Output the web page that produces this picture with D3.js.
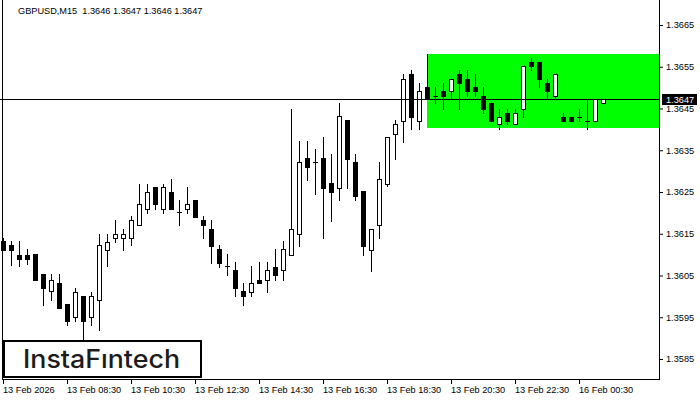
<!DOCTYPE html>
<html><head><meta charset="utf-8">
<script src="https://cdn.jsdelivr.net/npm/d3@7"></script>
<style>
html,body{margin:0;padding:0;background:#fff;}
svg{display:block;}
text{font-family:"Liberation Sans",Arial,sans-serif;}
</style></head><body>
<svg id="c" width="700" height="400"></svg>
<script>
const titleText = "GBPUSD,M15  1.3646 1.3647 1.3646 1.3647";
const opens = [1.36132,1.36122,1.36100,1.36100,1.36101,1.36053,1.36012,1.36031,1.35981,1.35950,
1.36002,1.35950,1.35992,1.36112,1.36141,1.36141,1.36141,1.36172,1.36210,1.36261,
1.36210,1.36251,1.36202,1.36210,1.36232,1.36182,1.36161,1.36113,1.36072,1.36062,
1.36012,1.36011,1.36040,1.36040,1.36071,1.36062,1.36100,1.36150,1.36331,1.36321,
1.36331,1.36271,1.36260,1.36422,1.36321,1.36252,1.36111,1.36171,1.36270,1.36390,
1.36421,1.36532,1.36421,1.36501,1.36481,1.36492,1.36491,1.36532,1.36520,1.36502,
1.36481,1.36462,1.36412,1.36440,1.36412,1.36449,1.36561,1.36561,1.36510,1.36481,
1.36430,1.36430,1.36430,1.36421,1.36421,1.36462];
const highs = [1.36141,1.36132,1.36132,1.36113,1.36101,1.36053,1.36053,1.36053,1.35981,1.36021,
1.36002,1.36011,1.36150,1.36150,1.36182,1.36161,1.36192,1.36270,1.36270,1.36261,
1.36270,1.36280,1.36232,1.36261,1.36232,1.36192,1.36182,1.36122,1.36101,1.36082,
1.36031,1.36072,1.36082,1.36082,1.36113,1.36132,1.36450,1.36372,1.36372,1.36353,
1.36381,1.36341,1.36463,1.36422,1.36341,1.36252,1.36161,1.36321,1.36381,1.36422,
1.36532,1.36542,1.36510,1.36580,1.36501,1.36510,1.36520,1.36542,1.36542,1.36532,
1.36502,1.36462,1.36449,1.36449,1.36449,1.36551,1.36571,1.36561,1.36520,1.36532,
1.36440,1.36430,1.36449,1.36472,1.36472,1.36472];
const lows = [1.36110,1.36074,1.36072,1.36077,1.36040,1.35980,1.35992,1.35971,1.35932,1.35941,
1.35890,1.35932,1.35919,1.36072,1.36130,1.36112,1.36122,1.36172,1.36200,1.36209,
1.36200,1.36209,1.36171,1.36200,1.36190,1.36140,1.36080,1.36070,1.36052,1.36002,
1.35980,1.36002,1.36031,1.36011,1.36040,1.36040,1.36100,1.36121,1.36278,1.36246,
1.36140,1.36180,1.36230,1.36260,1.36230,1.36100,1.36061,1.36140,1.36264,1.36329,
1.36370,1.36402,1.36402,1.36472,1.36462,1.36449,1.36473,1.36449,1.36481,1.36481,
1.36440,1.36421,1.36402,1.36412,1.36412,1.36430,1.36542,1.36502,1.36473,1.36473,
1.36421,1.36421,1.36421,1.36402,1.36421,1.36462];
const closes = [1.36112,1.36112,1.36090,1.36090,1.36040,1.36021,1.36040,1.35971,1.35941,1.36011,
1.35941,1.36002,1.36122,1.36131,1.36150,1.36150,1.36182,1.36222,1.36251,1.36222,
1.36261,1.36209,1.36202,1.36222,1.36190,1.36171,1.36121,1.36081,1.36072,1.36021,
1.36002,1.36031,1.36031,1.36062,1.36052,1.36113,1.36161,1.36321,1.36310,1.36321,
1.36260,1.36250,1.36432,1.36329,1.36241,1.36121,1.36161,1.36281,1.36381,1.36412,
1.36520,1.36430,1.36491,1.36472,1.36481,1.36481,1.36520,1.36510,1.36491,1.36491,
1.36449,1.36421,1.36430,1.36421,1.36440,1.36551,1.36551,1.36520,1.36491,1.36532,
1.36421,1.36421,1.36430,1.36421,1.36472,1.36472];
const timeTickIndex = [0,8,16,24,32,40,48,56,64,72];
const timeTickLabels = ["13 Feb 2026","13 Feb 08:30","13 Feb 10:30","13 Feb 12:30","13 Feb 14:30",
  "13 Feb 16:30","13 Feb 18:30","13 Feb 20:30","13 Feb 22:30","16 Feb 00:30"];
const priceTicks = [1.3585,1.3595,1.3605,1.3615,1.3625,1.3635,1.3645,1.3655,1.3665];
const currentPrice = 1.36472;
const zoneStartIndex = 53;
const zoneTop = 1.36580;
const zoneBottom = 1.36404;
const brandText = "InstaF\u0131ntech";

const svg = d3.select("#c");
const plotRight = 660, plotBottom = 379;
const fs = 9.2;

const x = d3.scaleLinear().domain([0, 75]).range([3, 603]);
const y = d3.scaleLinear().domain([1.3585, 1.3665]).range([359, 25]);

const bars = opens.map((o, i) => ({i, o, h: highs[i], l: lows[i], c: closes[i]}));

// zone rectangle
const zt = Math.round(y(zoneTop)), zb = Math.round(y(zoneBottom));
svg.append("rect")
  .attr("x", Math.round(x(zoneStartIndex))).attr("y", zt)
  .attr("width", plotRight - Math.round(x(zoneStartIndex))).attr("height", zb - zt)
  .attr("fill", "#00ff00");

// candles
const g = svg.append("g").attr("shape-rendering", "crispEdges");
bars.forEach(d => {
  const cx = Math.round(x(d.i));
  const yh = Math.round(y(d.h)), yl = Math.round(y(d.l));
  g.append("rect").attr("x", cx).attr("y", yh).attr("width", 1).attr("height", yl - yh + 1).attr("fill", "#000");
  const top = Math.round(y(Math.max(d.o, d.c))), bot = Math.round(y(Math.min(d.o, d.c)));
  if (bot - top < 1) {
    g.append("rect").attr("x", cx - 2).attr("y", top).attr("width", 5).attr("height", 1).attr("fill", "#000");
  } else if (d.c < d.o) {
    g.append("rect").attr("x", cx - 2).attr("y", top).attr("width", 5).attr("height", bot - top + 1).attr("fill", "#000");
  } else {
    g.append("rect").attr("x", cx - 1.5).attr("y", top + 0.5).attr("width", 4).attr("height", bot - top)
      .attr("fill", "#fff").attr("stroke", "#000").attr("stroke-width", 1);
  }
});

// current price line
const py = Math.round(y(currentPrice));
svg.append("line").attr("x1", 0).attr("x2", plotRight).attr("y1", py + 0.5).attr("y2", py + 0.5)
  .attr("stroke", "#000").attr("stroke-width", 1);

// frame
svg.append("line").attr("x1", 2.5).attr("x2", 2.5).attr("y1", 0).attr("y2", plotBottom + 1).attr("stroke", "#000");
svg.append("line").attr("x1", plotRight - 0.5).attr("x2", plotRight - 0.5).attr("y1", 0).attr("y2", plotBottom + 1).attr("stroke", "#000");
svg.append("line").attr("x1", 2).attr("x2", plotRight).attr("y1", plotBottom + 0.5).attr("y2", plotBottom + 0.5).attr("stroke", "#000");

// bottom axis
const xAxis = d3.axisBottom(x).tickValues(timeTickIndex)
  .tickFormat((d, k) => timeTickLabels[k]).tickSize(4).tickPadding(2);
const gx = svg.append("g").attr("transform", `translate(0,${plotBottom + 1})`).call(xAxis);
gx.select(".domain").remove();
gx.selectAll("line").attr("stroke", "#000");
gx.selectAll("text").attr("text-anchor", "start").attr("x", -0.5)
  .style("font-family", '"Liberation Sans",Arial,sans-serif').style("font-size", fs + "px").attr("fill", "#000");

// right axis
const yAxis = d3.axisRight(y).tickValues(priceTicks).tickFormat(d3.format(".4f")).tickSize(3).tickPadding(3);
const gy = svg.append("g").attr("transform", `translate(${plotRight},0)`).call(yAxis);
gy.select(".domain").remove();
gy.selectAll("line").attr("stroke", "#000");
gy.selectAll("text").style("font-family", '"Liberation Sans",Arial,sans-serif').style("font-size", fs + "px").attr("fill", "#000");

// current price box
svg.append("rect").attr("x", 662).attr("y", py - 5).attr("width", 35).attr("height", 11).attr("fill", "#000");
svg.append("text").attr("x", 666).attr("y", py + 4).attr("fill", "#fff")
  .style("font-size", fs + "px").text(d3.format(".4f")(currentPrice));

// title
svg.append("text").attr("x", 18).attr("y", 14).attr("fill", "#000").style("font-size", fs + "px")
  .attr("xml:space", "preserve").style("white-space", "pre").text(titleText);

// logo
svg.append("rect").attr("x", 4).attr("y", 341).attr("width", 197).attr("height", 36)
  .attr("fill", "#fff").attr("stroke", "#000").attr("stroke-width", 2);
svg.append("text").attr("x", 101.5).attr("y", 368).attr("text-anchor", "middle")
  .attr("textLength", 157).attr("lengthAdjust", "spacingAndGlyphs")
  .style("font-family", "Inter, Lato, sans-serif").style("font-weight", 500).style("font-size", "25px")
  .attr("fill", "#1c1c1c").text(brandText);
</script>
</body></html>
